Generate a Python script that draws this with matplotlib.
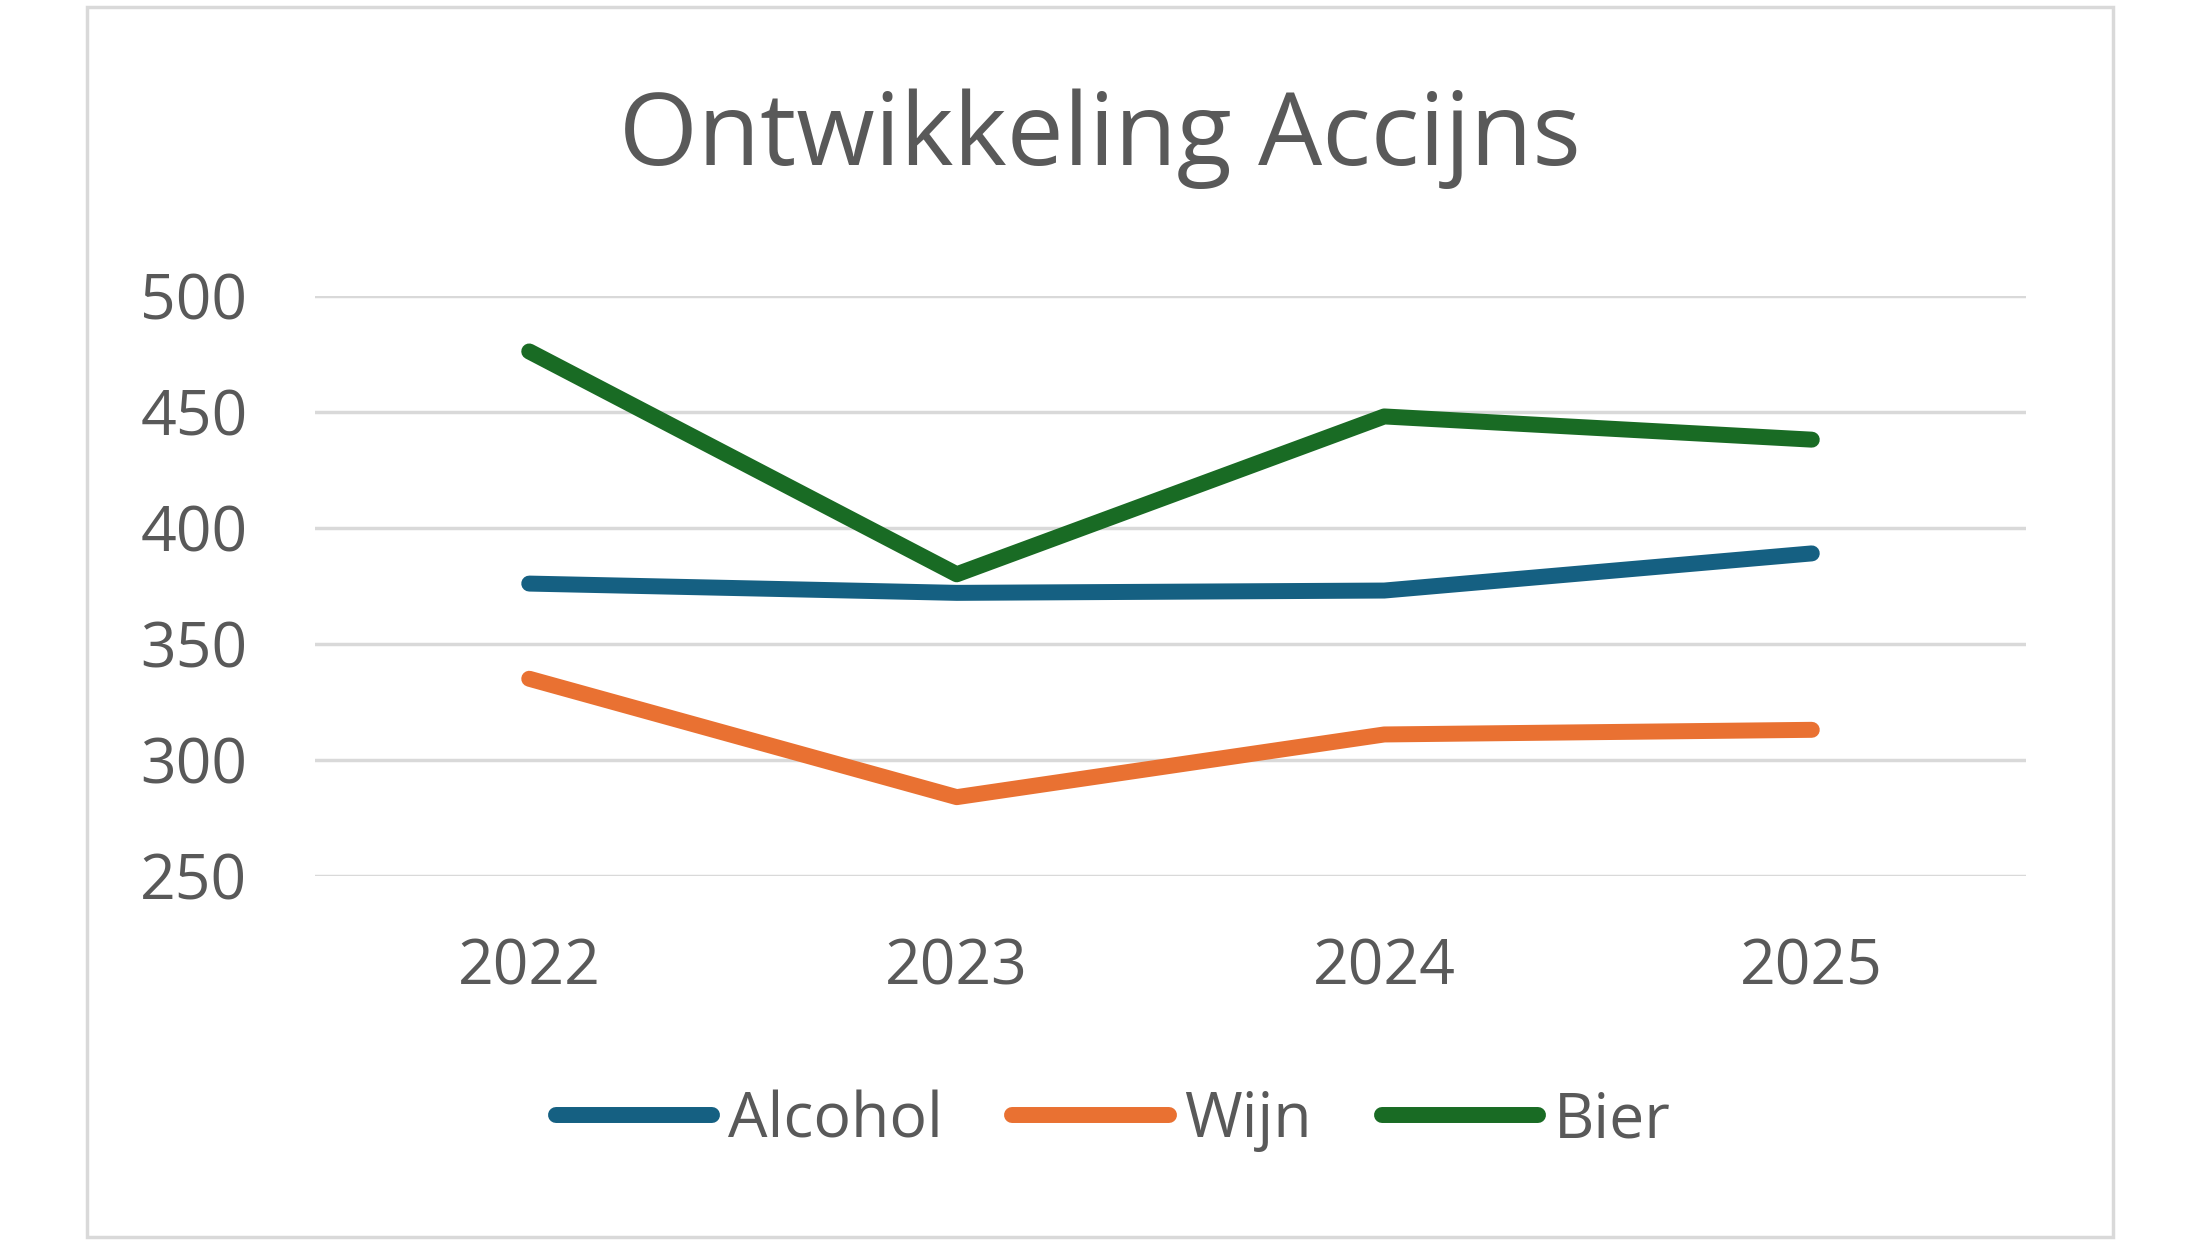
import matplotlib
matplotlib.use("Agg")
import matplotlib.pyplot as plt
from matplotlib.patches import Rectangle

years = ["2022", "2023", "2024", "2025"]
alcohol = [376, 372, 373, 389]
wijn = [335, 284, 311, 313]
bier = [476, 380, 448, 438]
series_names = ["Alcohol", "Wijn", "Bier"]
colors = ["#156082", "#E97132", "#196B24"]
yticks = [250, 300, 350, 400, 450, 500]

plt.rcParams['font.family'] = ['Open Sans', 'DejaVu Sans']
txt = "#595959"

fig = plt.figure(figsize=(22, 12.4), dpi=100)
fig.patch.set_facecolor("white")
fig.patches.append(Rectangle((87/2200, 1-1237/1240), (2113-87)/2200, (1237-7)/1240,
                             transform=fig.transFigure, fill=False,
                             edgecolor="#D9D9D9", linewidth=2.5))

ax = fig.add_axes([0.1434, 0.2935, 0.9207-0.1434, 0.7615-0.2935])
x = list(range(len(years)))
for vals, name, c in zip([alcohol, wijn, bier], series_names, colors):
    ax.plot(x, vals, color=c, linewidth=11.5, solid_capstyle='round',
            solid_joinstyle='round', label=name, zorder=3)

ax.set_xlim(-0.5, len(years) - 0.5)
ax.set_ylim(250, 500)
ax.set_yticks(yticks)
ax.set_xticks(x)
ax.set_xticklabels(years)
ax.grid(axis='y', color="#D9D9D9", linewidth=2.5, zorder=0)
ax.set_axisbelow(True)
for s in ["top", "right", "left", "bottom"]:
    ax.spines[s].set_visible(False)
ax.tick_params(axis='both', length=0, labelsize=45, colors=txt)
ax.tick_params(axis='y', pad=49)
ax.tick_params(axis='x', pad=44)

fig.text(0.5, 0.888, "Ontwikkeling Accijns", ha='center', va='center',
         fontsize=73, color=txt)

leg = fig.legend(loc='center', bbox_to_anchor=(0.506, 0.096), ncol=3,
                 frameon=False, fontsize=45, handlelength=2.5,
                 handletextpad=0.25, columnspacing=1.12)
for t in leg.get_texts():
    t.set_color(txt)

fig.savefig("out.png", dpi=100, facecolor="white")
